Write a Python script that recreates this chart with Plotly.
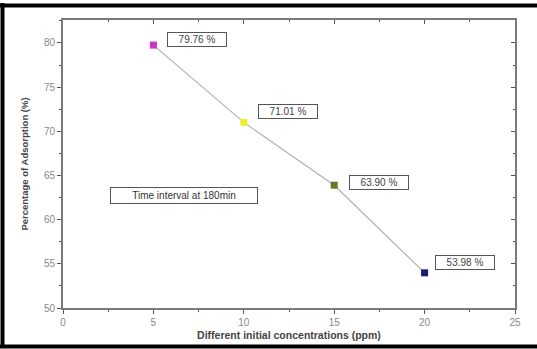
import plotly.graph_objects as go

concentrations = [5, 10, 15, 20]
adsorption = [79.76, 71.01, 63.90, 53.98]
point_labels = ["79.76 %", "71.01 %", "63.90 %", "53.98 %"]
marker_colors = ["#cc33cc", "#eeee33", "#66762a", "#1c1c6e"]
x_ticks = [0, 5, 10, 15, 20, 25]
y_ticks = [50, 55, 60, 65, 70, 75, 80]
note_text = "Time interval at 180min"

W, H = 537, 349
ml, mr, mt, mb = 63, 22, 20, 41
pw, ph = W - ml - mr, H - mt - mb
FONT = "Liberation Sans, Arial"

fig = go.Figure()
fig.add_trace(go.Scatter(
    x=concentrations, y=adsorption, mode="lines+markers",
    line=dict(color="#b0b0b0", width=1.2),
    marker=dict(symbol="square", size=7, color=marker_colors,
                line=dict(width=0)),
    showlegend=False, hoverinfo="skip"))
# invisible trace for mirrored (top/right) axes
fig.add_trace(go.Scatter(x=[concentrations[0]], y=[adsorption[0]], xaxis="x2", yaxis="y2",
                         mode="markers", marker=dict(opacity=0), showlegend=False,
                         hoverinfo="skip"))

offsets = [(0.75, 0.6), (0.8, 1.2), (0.8, 0.3), (0.6, 1.2)]
for x, y, t, (dx, dy) in zip(concentrations, adsorption, point_labels, offsets):
    fig.add_annotation(x=x + dx, y=y + dy, text=t, showarrow=False,
                       xanchor="left", yanchor="middle",
                       font=dict(family=FONT, size=10, color="#444"),
                       bordercolor="#555", borderwidth=1, borderpad=1,
                       width=56, bgcolor="white")

fig.add_annotation(x=2.6, y=62.74, text=note_text, showarrow=False,
                   xanchor="left", yanchor="middle",
                   font=dict(family=FONT, size=10, color="#333"),
                   bordercolor="#555", borderwidth=1, borderpad=2,
                   width=142, bgcolor="white")

axis_common = dict(showgrid=False, zeroline=False, linecolor="#7a7a7a", linewidth=2,
                   tickcolor="#555", ticklen=4, tickwidth=1, automargin=False,
                   tickfont=dict(family=FONT, size=10, color="#888"))

fig.update_layout(
    width=W, height=H,
    margin=dict(l=ml, r=mr, t=mt, b=mb),
    paper_bgcolor="white", plot_bgcolor="white",
    xaxis=dict(range=[0, 25], tickvals=x_ticks, ticks="outside",
               minor=dict(dtick=2.5, ticks="outside", ticklen=2, tickcolor="#555"),
               title=dict(text="<b>Different initial concentrations (ppm)</b>",
                          font=dict(family=FONT, size=10.5, color="#444"),
                          standoff=5),
               **axis_common),
    yaxis=dict(range=[50, 82.6], tickvals=y_ticks, ticks="outside",
               minor=dict(dtick=2.5, ticks="outside", ticklen=2, tickcolor="#555"),
               title=dict(text="<b>Percentage of Adsorption (%)</b>",
                          font=dict(family=FONT, size=9.5, color="#444"),
                          standoff=14),
               **axis_common),
    xaxis2=dict(range=[0, 25], overlaying="x", side="top", tickvals=x_ticks,
                ticks="inside", showticklabels=False,
                minor=dict(dtick=2.5, ticks="inside", ticklen=2, tickcolor="#555"),
                **axis_common),
    yaxis2=dict(range=[50, 82.6], overlaying="y", side="right", tickvals=y_ticks,
                ticks="inside", showticklabels=False,
                minor=dict(dtick=2.5, ticks="inside", ticklen=2, tickcolor="#555"),
                **axis_common),
)

# black frame around the picture (left, top, bottom)
def px_to_paper_x(px):
    return (px - ml) / pw

def px_to_paper_y(py):
    return 1 - (py - mt) / ph

for x0, y0, x1, y1 in [(2.5, 3, 2.5, 348), (0, 5.5, W, 5.5), (0, 346.5, W, 346.5)]:
    fig.add_shape(type="line", xref="paper", yref="paper",
                  x0=px_to_paper_x(x0), y0=px_to_paper_y(y0),
                  x1=px_to_paper_x(x1), y1=px_to_paper_y(y1),
                  line=dict(color="black", width=4))

fig.write_html("out.html", config={"displayModeBar": False},
               post_script="document.body.style.margin='0';document.body.style.overflow='hidden';")
